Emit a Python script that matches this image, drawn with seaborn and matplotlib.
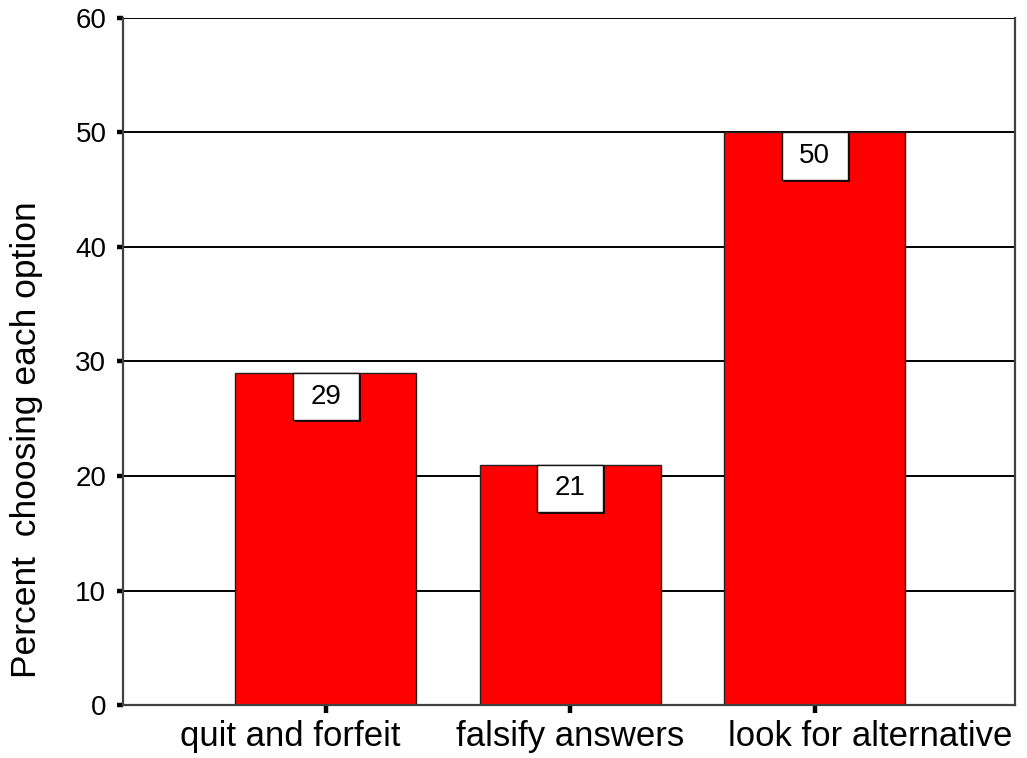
import matplotlib
matplotlib.use("Agg")
import matplotlib.pyplot as plt
import matplotlib.transforms as mtransforms
from matplotlib.patches import Rectangle
import seaborn as sns
import pandas as pd

# Data
options = ["quit and forfeit", "falsify answers", "look for alternative"]
percent = [29, 21, 50]
y_ticks = [0, 10, 20, 30, 40, 50, 60]

sns.set_theme(style="white")
plt.rcParams["font.family"] = ["Liberation Sans", "DejaVu Sans"]

df = pd.DataFrame({"option": options, "percent": percent})

fig = plt.figure(figsize=(10.27, 7.58), dpi=100)
ax = fig.add_axes([0.1198, 0.0699, 0.9883 - 0.1198, 0.9763 - 0.0699])

# horizontal reference lines behind the bars
for t in y_ticks[1:]:
    ax.axhline(t, color="black", lw=1.4, zorder=0)

sns.barplot(data=df, x="option", y="percent", color="#ff0000", saturation=1,
            width=0.74, edgecolor="#222222", linewidth=1.0, ax=ax, zorder=2)

ax.set_xlim(-0.83, 2.82)
ax.set_ylim(0, 60)
ax.set_yticks(y_ticks)
ax.set_yticklabels([str(t) for t in y_ticks], fontsize=20, color="black")
ax.set_xlabel("")
ax.set_ylabel("")

for side in ["left", "bottom", "right"]:
    ax.spines[side].set_color("#404040")
    ax.spines[side].set_linewidth(1.6)
ax.spines["top"].set_visible(False)

ax.tick_params(axis="y", which="major", left=True, length=4, width=3.2,
               color="black", pad=8)
ax.tick_params(axis="x", which="major", bottom=True, length=6, width=3.2,
               color="black", pad=5, labelsize=25)

# shift category labels sideways as laid out in the original layout
shifts_px = [-36, 0, 56]
for lab, dx in zip(ax.get_xticklabels(), shifts_px):
    lab.set_transform(lab.get_transform() +
                      mtransforms.ScaledTranslation(dx / 100, 0, fig.dpi_scale_trans))
    lab.set_color("black")

# value boxes hanging from the top of each bar
box_w = 0.27
box_h = 4.15
for i, v in enumerate(percent):
    shadow = Rectangle((i - box_w / 2 + 0.008, v - box_h - 0.15), box_w, box_h,
                       facecolor="#300000", edgecolor="none", zorder=3)
    ax.add_patch(shadow)
    box = Rectangle((i - box_w / 2, v - box_h), box_w, box_h,
                    facecolor="white", edgecolor="#111111", lw=1.0, zorder=4)
    ax.add_patch(box)
    ax.text(i, v - box_h / 2, f"{v}", ha="center", va="center",
            fontsize=20, color="black", zorder=5)

fig.text(0.0255, 1 - 440 / 758, "Percent  choosing each option", rotation=90,
         ha="center", va="center", fontsize=25.5, color="black")

fig.savefig("out.png", dpi=100, facecolor="white")
